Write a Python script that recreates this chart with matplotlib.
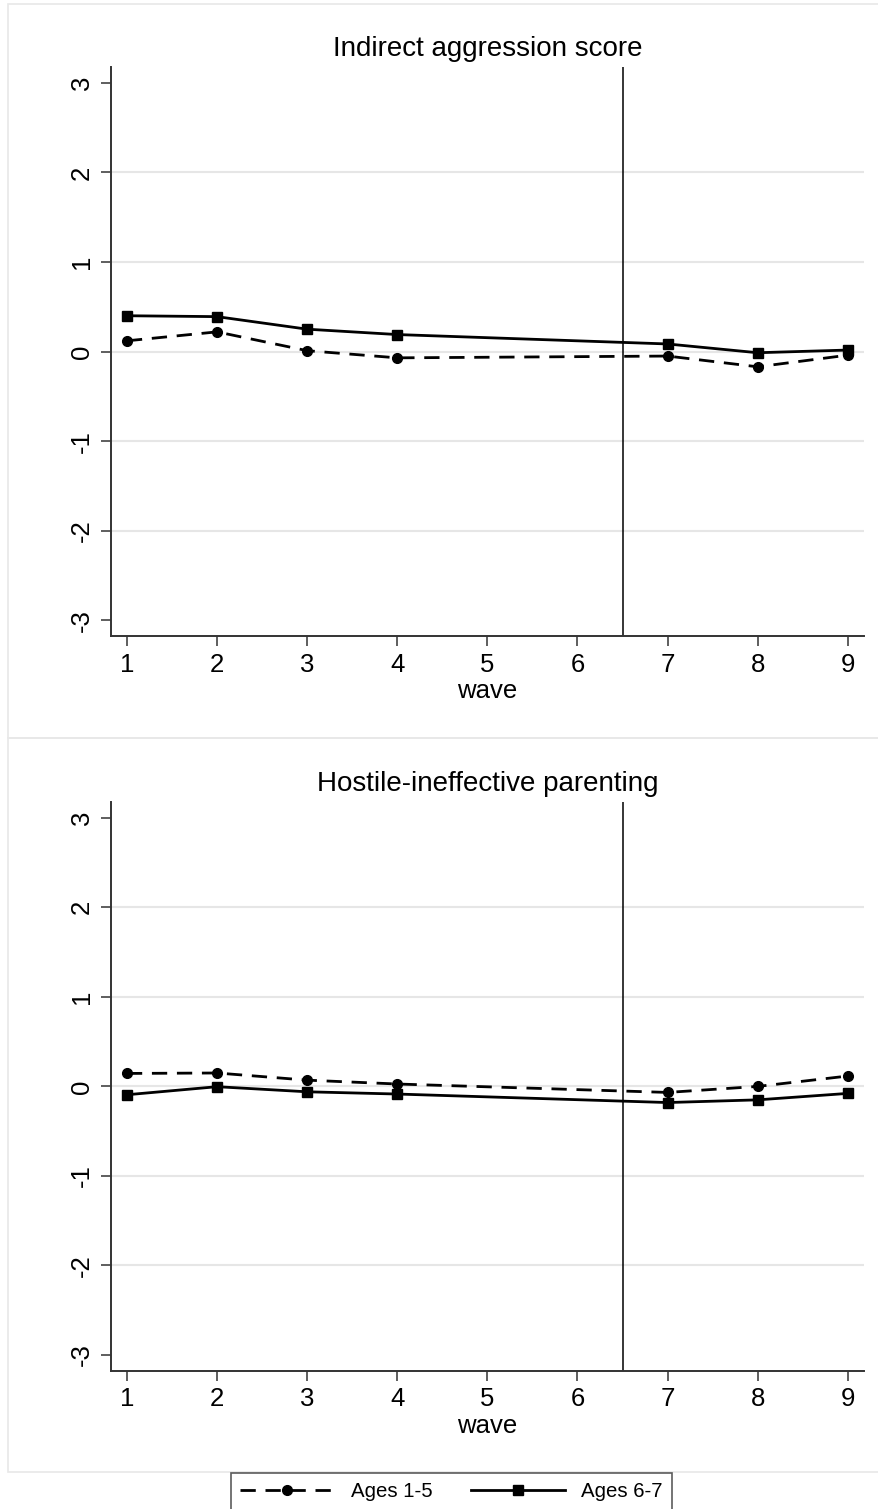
import matplotlib
matplotlib.use("Agg")
import matplotlib.pyplot as plt
from matplotlib.patches import Rectangle
from matplotlib.lines import Line2D

plt.rcParams['font.family'] = ['Liberation Sans', 'DejaVu Sans']

waves = [1, 2, 3, 4, 7, 8, 9]
titles = ['Indirect aggression score', 'Hostile-ineffective parenting']
young = [
    [0.12, 0.22, 0.01, -0.07, -0.05, -0.17, -0.04],
    [0.145, 0.15, 0.07, 0.027, -0.067, 0.0, 0.116],
]
old = [
    [0.40, 0.39, 0.25, 0.19, 0.085, -0.013, 0.017],
    [-0.093, -0.003, -0.06, -0.085, -0.18, -0.15, -0.078],
]
yticks = [-3, -2, -1, 0, 1, 2, 3]
xticks = [1, 2, 3, 4, 5, 6, 7, 8, 9]
cutoff = 6.5
labels = ['Ages 1-5', 'Ages 6-7']

W, H = 879, 1509
fig = plt.figure(figsize=(W / 100, H / 100), dpi=100)

# light panel frames (graph regions)
for top, bot in [(4, 738), (738, 1472)]:
    fig.patches.append(Rectangle((8 / W, 1 - bot / H), (W - 8) / W, (bot - top) / H,
                                 transform=fig.transFigure, fill=False,
                                 edgecolor='#e8e8e8', lw=1.2))

axes_px = [(66.7, 636), (801.7, 1370.7)]
left, right = 110.7, 864

dash = (0, (5.5, 3.5))
for i, (t, b) in enumerate(axes_px):
    ax = fig.add_axes([left / W, 1 - b / H, (right - left) / W, (b - t) / H])
    for y in [-2, -1, 0, 1, 2]:
        ax.axhline(y, color='#e6e6e6', lw=1.5, zorder=0)
    ax.axvline(cutoff, color='black', lw=1.1, zorder=1)
    ax.plot(waves, young[i], color='black', lw=2, linestyle=dash,
            marker='o', markersize=7, zorder=3)
    ax.plot(waves, old[i], color='black', lw=2, linestyle='-',
            marker='s', markersize=6.8, zorder=3)
    ax.set_xlim(0.82, 9.18)
    ax.set_ylim(-3.175, 3.18)
    ax.set_xticks(xticks)
    ax.set_yticks(yticks)
    ax.set_yticklabels([str(v) for v in yticks], rotation=90, va='center')
    ax.tick_params(axis='both', length=7, width=1.1, color='#333333',
                   labelsize=18.5, pad=5)
    ax.spines['top'].set_visible(False)
    ax.spines['right'].set_visible(False)
    for s in ['left', 'bottom']:
        ax.spines[s].set_linewidth(1.4)
        ax.spines[s].set_color('#333333')
    ax.set_xlabel('wave', fontsize=18.5, labelpad=2)
    ax.set_title(titles[i], fontsize=20, pad=8)

handles = [
    Line2D([], [], color='black', lw=2, linestyle=dash, marker='o', markersize=7),
    Line2D([], [], color='black', lw=2, linestyle='-', marker='s', markersize=6.8),
]
leg = fig.legend(handles, labels, loc='upper center', ncol=2,
                 bbox_to_anchor=(451.5 / W, 1 - 1462.7 / H),
                 fontsize=14.7, frameon=True, fancybox=False,
                 edgecolor='#333333', handlelength=4.6, columnspacing=1.9,
                 borderpad=0.45, handletextpad=0.8)
leg.get_frame().set_linewidth(1.2)

fig.savefig('out.png', dpi=100)
